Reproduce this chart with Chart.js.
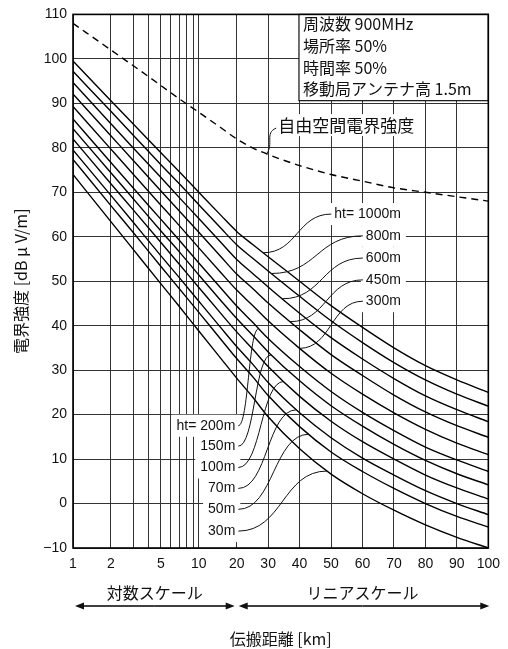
<!DOCTYPE html>
<html>
<head>
<meta charset="utf-8">
<script src="https://cdn.jsdelivr.net/npm/chart.js@4.4.1/dist/chart.umd.min.js"></script>
<style>
  html, body { margin: 0; padding: 0; background: #fff; }
  #wrap { width: 508px; height: 649px; }
</style>
</head>
<body>
<div id="wrap"><canvas id="chart"></canvas></div>
<script>
const distances = [1, 2, 3, 5, 7, 10, 15, 20, 25, 30, 40, 50, 60, 70, 80, 90, 100]

// field strength [dBuV/m] per base station height
const ht1000 = [99.5, 90.6, 85.4, 78.9, 74.6, 70.0, 64.8, 61.2, 58.3, 55.5, 50.0, 44.5, 39.6, 35.0, 31.0, 27.8, 25.0]
const ht800 = [97.2, 88.2, 82.9, 76.2, 71.9, 67.2, 61.9, 58.2, 55.2, 52.3, 46.6, 41.1, 36.2, 31.7, 27.8, 24.6, 21.9]
const ht600 = [94.7, 85.4, 80.0, 73.3, 68.8, 64.1, 58.7, 54.9, 51.8, 48.7, 42.8, 37.3, 32.5, 28.1, 24.2, 21.1, 18.4]
const ht450 = [92.1, 82.7, 77.2, 70.3, 65.8, 61.0, 55.5, 51.6, 48.4, 45.1, 39.1, 33.5, 28.8, 24.4, 20.6, 17.5, 14.9]
const ht300 = [89.3, 79.7, 74.1, 67.1, 62.5, 57.5, 51.9, 48.0, 44.6, 41.1, 34.9, 29.3, 24.6, 20.4, 16.7, 13.6, 11.0]
const ht200 = [86.5, 76.7, 71.0, 63.9, 59.2, 54.1, 48.4, 44.4, 40.8, 37.1, 30.8, 25.2, 20.5, 16.4, 12.7, 9.8, 7.2]
const ht150 = [84.3, 74.4, 68.6, 61.3, 56.6, 51.4, 45.6, 41.6, 37.9, 34.1, 27.6, 22.0, 17.4, 13.3, 9.7, 6.7, 4.2]
const ht100 = [82.0, 71.9, 66.1, 58.7, 53.8, 48.6, 42.7, 38.6, 34.8, 30.8, 24.1, 18.5, 13.9, 10.0, 6.4, 3.5, 1.0]
const ht70 = [79.5, 69.3, 63.3, 55.7, 50.8, 45.5, 39.5, 35.3, 31.4, 27.2, 20.4, 14.8, 10.2, 6.4, 2.9, 0.0, -2.5]
const ht50 = [77.4, 67.0, 61.0, 53.3, 48.3, 43.0, 36.9, 32.6, 28.6, 24.3, 17.3, 11.6, 7.2, 3.4, 0.0, -2.9, -5.3]
const ht30 = [74.0, 63.4, 57.2, 49.4, 44.3, 38.8, 32.6, 28.2, 24.0, 19.5, 12.3, 6.6, 2.2, -1.5, -4.8, -7.6, -10.0]
const freeSpace = [108, 102, 98.5, 94, 91, 88, 84.5, 82, 80, 78.5, 76, 74, 72.5, 71, 70, 69, 68]

const curves = [ht1000, ht800, ht600, ht450, ht300, ht200, ht150, ht100, ht70, ht50, ht30]
const upperLabels = ["ht= 1000m", "800m", "600m", "450m", "300m"]
const lowerLabels = ["ht= 200m", "150m", "100m", "70m", "50m", "30m"]

const xTicks = [1, 2, 3, 4, 5, 6, 7, 8, 9, 10, 20, 30, 40, 50, 60, 70, 80, 90, 100]
const xTickLabels = [1, 2, 5, 10, 20, 30, 40, 50, 60, 70, 80, 90, 100]
const infoLines = ["周波数 900MHz", "場所率 50%", "時間率 50%", "移動局アンテナ高 1.5m"]

// x axis: log up to 20 km, linear after that
const BREAK_KM = 20
const KM_PER_DECADE = 40

const Linear = Chart.registry.getScale("linear")
class HybridScale extends Linear {
  toU(v) {
    return v >= BREAK_KM ? v : BREAK_KM - KM_PER_DECADE * Math.log10(BREAK_KM / v)
  }
  fromU(u) {
    return u >= BREAK_KM ? u : BREAK_KM / Math.pow(10, (BREAK_KM - u) / KM_PER_DECADE)
  }
  determineDataLimits() {
    this.min = this.options.min
    this.max = this.options.max
  }
  buildTicks() {
    return xTicks.map(v => ({ value: v }))
  }
  configure() {
    super.configure()
    this._u0 = this.toU(this.min)
    this._uRange = this.toU(this.max) - this._u0
  }
  getPixelForValue(v) {
    return this.getPixelForDecimal((this.toU(v) - this._u0) / this._uRange)
  }
  getValueForPixel(p) {
    return this.fromU(this._u0 + this.getDecimalForPixel(p) * this._uRange)
  }
}
HybridScale.id = "hybrid"
HybridScale.defaults = {}
Chart.register(HybridScale)

const JP = '"Noto Sans CJK JP", sans-serif'
const LATIN = '"Liberation Sans", Arial, sans-serif'

// pixel of a curve at distance km (linear between read points)
function curvePoint(chart, series, km) {
  const { x, y } = chart.scales
  let i = 0
  while (i < distances.length - 2 && distances[i + 1] < km) i++
  const x0 = x.getPixelForValue(distances[i]), x1 = x.getPixelForValue(distances[i + 1])
  const y0 = y.getPixelForValue(series[i]), y1 = y.getPixelForValue(series[i + 1])
  const px = x.getPixelForValue(km)
  return { x: px, y: y0 + (y1 - y0) * (px - x0) / (x1 - x0) }
}

function whiteBox(ctx, left, cy, w) {
  ctx.fillStyle = "#fff"
  ctx.fillRect(left - 5, cy - 11, w + 10, 22)
}

function leader(ctx, sx, sy, ex, ey) {
  const dx = ex - sx
  ctx.beginPath()
  ctx.moveTo(sx, sy)
  ctx.bezierCurveTo(sx + dx * 0.5, sy, ex - dx * 0.5, ey, ex, ey)
  ctx.stroke()
}

const annotate = {
  id: "annotate",
  afterDatasetsDraw(chart) {
    const { ctx, chartArea: area, scales: { x, y } } = chart
    ctx.save()
    ctx.strokeStyle = "#111"
    ctx.lineWidth = 1

    // info box
    const bl = x.getPixelForValue(39.8), bb = y.getPixelForValue(90.6)
    ctx.fillStyle = "#fff"
    ctx.fillRect(bl, area.top, area.right - bl, bb - area.top)
    ctx.lineWidth = 1.2
    ctx.strokeRect(bl, area.top, area.right - bl, bb - area.top)
    ctx.font = "16px " + JP
    ctx.fillStyle = "#111"
    ctx.textAlign = "left"
    ctx.textBaseline = "middle"
    infoLines.forEach((t, i) => ctx.fillText(t, bl + 4, area.top + 10 + i * 21.6))

    // free space label
    ctx.font = "17px " + JP
    const fsText = "自由空間電界強度"
    const fsx = x.getPixelForValue(33.2), fsy = y.getPixelForValue(85.1)
    whiteBox(ctx, fsx, fsy, ctx.measureText(fsText).width)
    ctx.fillStyle = "#111"
    ctx.fillText(fsText, fsx, fsy)
    const fp = curvePoint(chart, freeSpace, 29.5)
    ctx.lineWidth = 1
    ctx.beginPath()
    ctx.moveTo(fsx - 2, fsy + 3)
    ctx.bezierCurveTo(fsx - 14, fsy + 8, fsx - 4, fp.y - 10, fp.x, fp.y)
    ctx.stroke()

    ctx.font = "14px " + LATIN
    // upper group, right aligned
    const upRight = x.getPixelForValue(72.2)
    const upRows = [65.1, 60.2, 55.2, 50.3, 45.5]
    const upEnds = [28.4, 31, 34.5, 37, 40]
    const upStarts = []
    upperLabels.forEach((t, i) => {
      const w = ctx.measureText(t).width
      const cy = y.getPixelForValue(upRows[i])
      whiteBox(ctx, upRight - w, cy, w)
      upStarts.push({ x: upRight - w - 3, y: cy })
    })
    ctx.fillStyle = "#111"
    ctx.textAlign = "right"
    upperLabels.forEach((t, i) => ctx.fillText(t, upRight, upStarts[i].y))
    upperLabels.forEach((t, i) => {
      const p = curvePoint(chart, curves[i], upEnds[i])
      leader(ctx, upStarts[i].x, upStarts[i].y, p.x, p.y)
    })

    // lower group
    const lowRight = x.getPixelForValue(19.5)
    const lowRows = [17.5, 12.9, 8.1, 3.4, -1.3, -6.2]
    const lowEnds = [27, 31, 35, 39, 43, 48.75]
    lowerLabels.forEach((t, i) => {
      const w = ctx.measureText(t).width
      whiteBox(ctx, lowRight - w, y.getPixelForValue(lowRows[i]), w)
    })
    ctx.fillStyle = "#111"
    lowerLabels.forEach((t, i) => ctx.fillText(t, lowRight, y.getPixelForValue(lowRows[i])))
    lowerLabels.forEach((t, i) => {
      const p = curvePoint(chart, curves[5 + i], lowEnds[i])
      leader(ctx, lowRight + 3, y.getPixelForValue(lowRows[i]), p.x, p.y)
    })
    ctx.restore()
  },
  afterDraw(chart) {
    const { ctx, chartArea: area, scales: { x } } = chart
    ctx.save()
    ctx.strokeStyle = "#000"
    ctx.lineWidth = 1.6
    ctx.strokeRect(area.left, area.top, area.right - area.left, area.bottom - area.top)

    const p1 = x.getPixelForValue(1), p20 = x.getPixelForValue(BREAK_KM), p100 = x.getPixelForValue(100)
    ctx.fillStyle = "#111"
    ctx.textAlign = "center"
    ctx.textBaseline = "middle"
    ctx.font = "16px " + JP
    ctx.fillText("対数スケール", (p1 + p20) / 2, area.bottom + 45)
    ctx.fillText("リニアスケール", (p20 + p100) / 2, area.bottom + 45)
    ctx.fillText("伝搬距離 [km]", (area.left + area.right) / 2, area.bottom + 91)

    const ay = area.bottom + 58
    const arrow = (from, to) => {
      const dir = Math.sign(to - from)
      ctx.lineWidth = 1.3
      ctx.beginPath()
      ctx.moveTo(from, ay)
      ctx.lineTo(to - dir * 8, ay)
      ctx.stroke()
      ctx.beginPath()
      ctx.moveTo(to, ay)
      ctx.lineTo(to - dir * 9, ay - 3.5)
      ctx.lineTo(to - dir * 9, ay + 3.5)
      ctx.closePath()
      ctx.fill()
    }
    const mid = (p1 + p20) / 2
    arrow(mid, p1 + 2)
    arrow(mid, p20 - 2)
    const mid2 = (p20 + p100) / 2
    arrow(mid2, p20 + 2)
    arrow(mid2, p100 + 1)
    ctx.restore()
  }
}

const datasets = curves.map((s, i) => ({
  label: (i < 5 ? upperLabels : lowerLabels)[i < 5 ? i : i - 5],
  data: distances.map((d, j) => ({ x: d, y: s[j] })),
  borderColor: "#000",
  borderWidth: 1.4,
  pointRadius: 0,
  cubicInterpolationMode: "monotone",
  fill: false,
}))
datasets.push({
  label: "自由空間電界強度",
  data: distances.map((d, j) => ({ x: d, y: freeSpace[j] })),
  borderColor: "#000",
  borderWidth: 1.4,
  borderDash: [7, 5],
  pointRadius: 0,
  cubicInterpolationMode: "monotone",
  fill: false,
})

new Chart(document.getElementById("chart"), {
  type: "line",
  data: { datasets },
  options: {
    responsive: true,
    maintainAspectRatio: false,
    animation: false,
    layout: { padding: { top: 13, right: 14, left: 0, bottom: 0 } },
    plugins: { legend: { display: false }, tooltip: { enabled: false } },
    scales: {
      x: {
        type: "hybrid",
        min: 1,
        max: 100,
        afterFit: s => { s.height = 101 },
        grid: { color: "#333", lineWidth: 1, drawTicks: false },
        border: { display: false },
        ticks: {
          autoSkip: false,
          maxRotation: 0,
          padding: 8,
          color: "#111",
          font: { family: LATIN, size: 14 },
          callback: v => (xTickLabels.includes(v) ? String(v) : ""),
        },
      },
      y: {
        min: -10,
        max: 110,
        afterFit: s => { s.width = 73 },
        grid: { color: "#333", lineWidth: 1, drawTicks: false },
        border: { display: false },
        ticks: {
          stepSize: 10,
          padding: 6,
          color: "#111",
          font: { family: LATIN, size: 14 },
          callback: v => (v < 0 ? "−" + -v : String(v)),
        },
        title: {
          display: true,
          text: "電界強度 [dB μ V/m]",
          color: "#111",
          font: { family: JP, size: 16 },
          padding: { top: 11, bottom: 0 },
        },
      },
    },
  },
  plugins: [annotate],
})
</script>
</body>
</html>
